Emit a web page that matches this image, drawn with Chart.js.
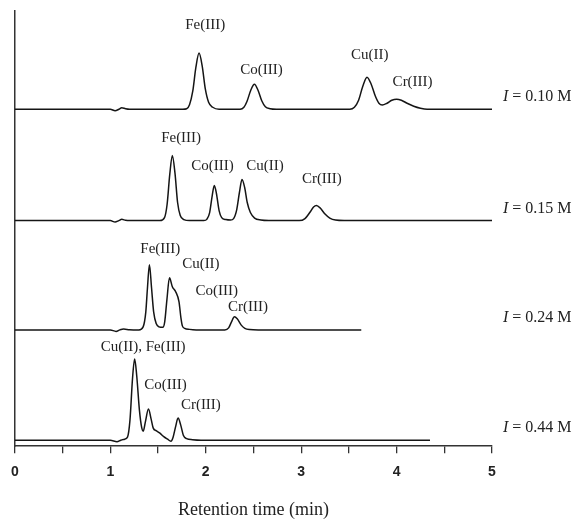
<!DOCTYPE html>
<html>
<head>
<meta charset="utf-8">
<title>Retention time vs ionic strength</title>
<script src="https://cdn.jsdelivr.net/npm/chart.js@4.4.1/dist/chart.umd.min.js"></script>
<style>
  html, body { margin: 0; padding: 0; background: #fff; }
  #wrap { width: 575px; height: 519px; position: relative; }
</style>
</head>
<body>
<div id="wrap"><canvas id="chromChart"></canvas></div>
<script>
// Ionic strength of each run, top trace first
const ionicStrengths = ['0.10', '0.15', '0.24', '0.44'];
// Vertical offset of each trace (signal units)
const baselines = [336, 225, 116, 6];

// I = 0.10 M
const time010 = [0, 1.00, 1.05, 1.09, 1.12, 1.16, 1.20, 1.76, 1.80, 1.83, 1.864, 1.897, 1.93, 1.963, 1.996, 2.03, 2.073, 2.14,
  2.36, 2.40, 2.433, 2.472, 2.51, 2.548, 2.587, 2.625, 2.675, 2.74,
  3.51, 3.558, 3.602, 3.646, 3.69, 3.734, 3.778, 3.815, 3.85, 3.90, 3.95, 4.00, 4.05, 4.11, 4.18, 4.25, 4.32, 5.00];
const signal010 = [0, 0, -1.5, 0, 1.5, 0.5, 0, 0, 0.5, 4.5, 18, 42, 56, 43, 20, 7, 2, 0,
  0, 2, 8, 19, 25, 19, 8.5, 2.5, 0.5, 0,
  0, 2, 9, 23, 32, 25, 13, 6, 4.2, 6, 9, 10, 9, 6, 3, 1, 0, 0];

// I = 0.15 M
const time015 = [0, 1.00, 1.05, 1.09, 1.12, 1.16, 1.20, 1.52, 1.568, 1.595, 1.623, 1.65, 1.678, 1.705, 1.733, 1.771, 1.83,
  1.98, 2.013, 2.041, 2.068, 2.09, 2.112, 2.14, 2.167, 2.211, 2.26,
  2.292, 2.325, 2.353, 2.38, 2.408, 2.435, 2.468, 2.512, 2.578, 2.66,
  2.98, 3.04, 3.09, 3.13, 3.16, 3.20, 3.25, 3.30, 3.36, 3.45, 5.00];
const signal015 = [0, 0, -1.5, 0, 1.2, 0.3, 0, 0, 3, 16, 46, 65, 47, 18, 5, 1, 0,
  0, 1.5, 8, 25, 35, 27, 10, 3, 1, 0.5,
  2, 11, 28, 41, 33, 18, 8, 2.5, 0.5, 0,
  0, 2, 8, 13.5, 15, 12.5, 6.5, 2.5, 0.5, 0, 0];

// I = 0.24 M
const time024 = [0, 1.00, 1.06, 1.10, 1.14, 1.20, 1.30, 1.344, 1.372, 1.388, 1.41, 1.432, 1.454, 1.482, 1.51, 1.55,
  1.57, 1.593, 1.62, 1.65, 1.685, 1.72, 1.74, 1.755, 1.78, 1.83, 1.90,
  2.20, 2.24, 2.27, 2.30, 2.33, 2.37, 2.41, 2.46, 2.55, 3.63];
const signal024 = [0, 0, -1.5, 0, 0.8, 0.2, 0, 3, 18, 40, 65, 42, 18, 6, 3, 2.5,
  8, 30, 52, 43, 38, 28, 12, 4, 1.5, 0.5, 0,
  0, 2, 8, 13, 11, 5, 1.5, 0.3, 0, 0];

// I = 0.44 M
const time044 = [0, 1.00, 1.07, 1.11, 1.15, 1.18, 1.206, 1.233, 1.255, 1.277, 1.305, 1.328, 1.345,
  1.367, 1.40, 1.428, 1.45, 1.48, 1.52, 1.56, 1.60, 1.635, 1.658, 1.683, 1.71, 1.738, 1.765, 1.80, 1.86, 1.95, 4.35];
const signal044 = [0, 0, -1.5, 0, 1, 3, 20, 62, 81, 64, 30, 13, 9,
  18, 31, 21, 12, 9.5, 7, 3.5, 1, -1, 3, 13, 22, 15, 5, 1.5, 0.5, 0, 0];

const traceTimes = [time010, time015, time024, time044];
const traceSignals = [signal010, signal015, signal024, signal044];

// Peak names with label anchor (time, height above the trace baseline)
const peakNames = [
  ['Fe(III)', 'Co(III)', 'Cu(II)', 'Cr(III)'],
  ['Fe(III)', 'Co(III)', 'Cu(II)', 'Cr(III)'],
  ['Fe(III)', 'Cu(II)', 'Co(III)', 'Cr(III)'],
  ['Cu(II), Fe(III)', 'Co(III)', 'Cr(III)']
];
const peakLabelTimes = [
  [1.994, 2.584, 3.719, 4.168],
  [1.742, 2.071, 2.620, 3.217],
  [1.524, 1.949, 2.116, 2.442],
  [1.344, 1.579, 1.949]
];
const peakLabelHeights = [
  [84, 39, 54, 27],
  [82, 54, 54, 41],
  [81, 66, 39, 23],
  [93, 55, 35]
];

const xTickLabels = ['0', '1', '2', '3', '4', '5'];

const serif = "'Liberation Serif', 'Times New Roman', serif";
const inkColor = '#222';

const datasets = traceTimes.map((times, i) => ({
  label: 'I = ' + ionicStrengths[i] + ' M',
  data: times.map((t, j) => ({ x: t, y: baselines[i] + traceSignals[i][j] })),
  borderColor: '#151515',
  borderWidth: 1.5,
  pointRadius: 0,
  fill: false,
  cubicInterpolationMode: 'monotone'
}));

// Peak names and ionic strength labels
const labelPlugin = {
  id: 'traceLabels',
  afterDatasetsDraw(chart) {
    const ctx = chart.ctx;
    const xs = chart.scales.x;
    const ys = chart.scales.y;
    ctx.save();
    ctx.fillStyle = inkColor;
    ctx.textBaseline = 'middle';

    ctx.font = '15px ' + serif;
    ctx.textAlign = 'center';
    peakNames.forEach((names, i) => {
      names.forEach((name, j) => {
        const px = xs.getPixelForValue(peakLabelTimes[i][j]);
        const py = ys.getPixelForValue(baselines[i] + peakLabelHeights[i][j]);
        ctx.fillText(name, px, py);
      });
    });

    ctx.textAlign = 'left';
    ionicStrengths.forEach((s, i) => {
      let px = chart.chartArea.right + 11;
      const py = ys.getPixelForValue(baselines[i] + 12);
      ctx.font = 'italic 16px ' + serif;
      ctx.fillText('I', px, py);
      px += ctx.measureText('I').width;
      ctx.font = '16px ' + serif;
      ctx.fillText(' = ' + s + ' M', px, py);
    });
    ctx.restore();
  }
};

new Chart(document.getElementById('chromChart'), {
  type: 'line',
  data: { datasets: datasets },
  options: {
    responsive: true,
    maintainAspectRatio: false,
    animation: false,
    layout: { padding: { left: 14, right: 83, top: 11, bottom: 0 } },
    plugins: {
      legend: { display: false },
      tooltip: { enabled: false }
    },
    scales: {
      x: {
        type: 'linear',
        min: 0,
        max: 5,
        grid: { drawOnChartArea: false, drawTicks: true, tickLength: 7, color: '#333', lineWidth: 1.3 },
        border: { display: true, color: '#333', width: 1.5 },
        ticks: {
          stepSize: 0.5,
          autoSkip: false,
          maxRotation: 0,
          padding: 11,
          color: inkColor,
          font: { family: "'Liberation Sans', Arial, sans-serif", size: 14, weight: 'bold' },
          callback: function(value) {
            return Number.isInteger(value) ? xTickLabels[value] : '';
          }
        },
        title: {
          display: true,
          text: 'Retention time (min)',
          color: inkColor,
          font: { family: serif, size: 18, lineHeight: 1 },
          padding: { top: 9, bottom: 0 }
        }
      },
      y: {
        min: 0,
        max: 434,
        grid: { display: false, drawTicks: false },
        border: { display: true, color: '#333', width: 1.5 },
        ticks: { display: false }
      }
    }
  },
  plugins: [labelPlugin]
});
</script>
</body>
</html>
